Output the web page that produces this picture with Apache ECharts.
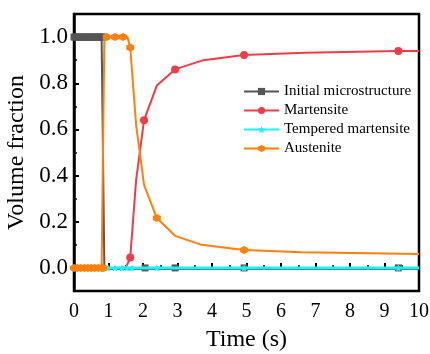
<!DOCTYPE html>
<html>
<head>
<meta charset="utf-8">
<script src="https://cdn.jsdelivr.net/npm/echarts@6/dist/echarts.min.js"></script>
<style>html,body{margin:0;padding:0;background:#fff}#chart{width:430px;height:354px}</style>
</head>
<body>
<div id="chart"></div>
<script>
// ---- data ----
const xTicks = [0,1,2,3,4,5,6,7,8,9,10];
const yTickLabels = [0, 0.2, 0.4, 0.6, 0.8, 1.0];
const yMinorTicks = [0.1, 0.3, 0.5, 0.7, 0.9];

const seriesNames = ['Initial microstructure', 'Martensite', 'Tempered martensite', 'Austenite'];

const timeInitial = [0,0.05,0.1,0.15,0.2,0.25,0.3,0.35,0.4,0.45,0.5,0.55,0.6,0.65,0.7,0.75,0.8,0.85,0.88,1.0,1.2,1.4,1.6,2.06,2.93,4.93,9.4,10];
const fracInitial = [1,1,1,1,1,1,1,1,1,1,1,1,1,1,1,1,1,1,0,0,0,0,0,0,0,0,0,0];

const timeMartensite = [0,0.5,1.0,1.5,1.55,1.63,1.8,2.03,2.4,2.93,3.75,4.93,6.7,9.4,10];
const fracMartensite = [0,0,0,0,0,0.045,0.38,0.64,0.79,0.86,0.90,0.922,0.932,0.94,0.94];

const timeTempered = [0,0.2,0.4,0.6,0.8,0.99,1.19,1.39,1.53,1.68,2.4,4.93,9.4,10];
const fracTempered = [0,0,0,0,0,0,0,0,0,0,0,0,0,0];

const timeAustenite = [0,0.1,0.2,0.3,0.4,0.5,0.6,0.7,0.8,0.85,0.88,0.95,1.19,1.42,1.55,1.63,1.8,2.03,2.4,2.93,3.7,4.93,6.6,10];
const fracAustenite = [0,0,0,0,0,0,0,0,0,0,1,1,1,1,1,0.955,0.62,0.36,0.216,0.139,0.10,0.078,0.068,0.06];

// ---- style: which points show a marker ----
const markInitial = [0,1,2,3,4,5,6,7,8,9,10,11,12,13,14,15,16,17,23,24,25,26];
const markMartensite = [5,7,9,11,13];
const markTempered = [0,1,2,3,4,5,6,7,8,9,10,11,12];
const markAustenite = [0,1,2,3,4,5,6,7,8,9,11,12,13,15,18,21];

const FONT = "'Liberation Serif','Times New Roman',serif";
const hexagon = 'path://M0,-10 L8.66,-5 L8.66,5 L0,10 L-8.66,5 L-8.66,-5 Z';
const star = 'path://M0,-10 L2.9,-4 L9.5,-3.1 L4.7,1.5 L5.9,8.1 L0,5 L-5.9,8.1 L-4.7,1.5 L-9.5,-3.1 L-2.9,-4 Z';

function pairs(t, v){ return t.map((x,i)=>[x, v[i]]); }
function sizer(marks, size){ const s = new Set(marks); return (val, p) => s.has(p.dataIndex) ? size : 0; }

const chart = echarts.init(document.getElementById('chart'), null, {renderer:'canvas'});
const option = {
  animation: false,
  backgroundColor: '#fff',
  grid: { left: 74, right: 11, top: 14, bottom: 63, containLabel: false, outerBoundsMode: 'none',
          show: true, borderColor: '#000', borderWidth: 2.5, backgroundColor: 'transparent' },
  legend: {
    data: seriesNames,
    orient: 'vertical',
    left: 243, top: 84, padding: 0,
    itemWidth: 35, itemHeight: 9, itemGap: 4,
    textStyle: { fontFamily: FONT, fontSize: 15, color: '#000' }
  },
  xAxis: {
    type: 'value', min: 0, max: 10, interval: 1,
    name: 'Time (s)', nameLocation: 'middle', nameGap: 37,
    nameTextStyle: { fontFamily: FONT, fontSize: 24, color: '#000' },
    axisLine: { lineStyle: { color: '#000', width: 2.5 } },
    axisTick: { inside: true, length: 5, lineStyle: { color: '#000', width: 2 } },
    minorTick: { show: true, splitNumber: 2, length: 3, lineStyle: { color: '#000', width: 1.5 } },
    axisLabel: { fontFamily: FONT, fontSize: 20, color: '#000', margin: 11, formatter: v => xTicks.includes(v) ? String(v) : '' },
    splitLine: { show: false }
  },
  yAxis: [{
    type: 'value', min: -0.1, max: 1.1,
    name: 'Volume fraction', nameLocation: 'middle', nameGap: 37,
    nameTextStyle: { fontFamily: FONT, fontSize: 24, color: '#000' },
    axisLine: { lineStyle: { color: '#000', width: 2.5 } },
    axisTick: { inside: true, length: 5, lineStyle: { color: '#000', width: 2 }, customValues: yTickLabels },
    axisLabel: { fontFamily: FONT, fontSize: 23, color: '#000', margin: 6, customValues: yTickLabels, formatter: v => v.toFixed(1) },
    splitLine: { show: false }
  }, {
    type: 'value', min: -0.1, max: 1.1, position: 'left',
    axisLine: { show: false },
    axisTick: { inside: true, length: 3, lineStyle: { color: '#000', width: 1.5 }, customValues: yMinorTicks },
    axisLabel: { show: false },
    splitLine: { show: false }
  }],
  series: [
    { name: seriesNames[0], type: 'line', data: pairs(timeInitial, fracInitial), color: '#555555',
      lineStyle: { width: 2 }, symbol: 'rect', symbolSize: sizer(markInitial, 7), showAllSymbol: true, z: 2 },
    { name: seriesNames[1], type: 'line', data: pairs(timeMartensite, fracMartensite), color: '#f03c46',
      lineStyle: { width: 2 }, symbol: 'circle', symbolSize: sizer(markMartensite, 8), showAllSymbol: true, z: 3 },
    { name: seriesNames[2], type: 'line', data: pairs(timeTempered, fracTempered), color: '#1ff0f5',
      lineStyle: { width: 3 }, symbol: star, symbolSize: sizer(markTempered, 7), showAllSymbol: true, z: 4 },
    { name: seriesNames[3], type: 'line', data: pairs(timeAustenite, fracAustenite), color: '#ff800a',
      lineStyle: { width: 2 }, symbol: hexagon, symbolSize: sizer(markAustenite, 8), showAllSymbol: true, z: 5 }
  ]
};
chart.setOption(option);
</script>
</body>
</html>
